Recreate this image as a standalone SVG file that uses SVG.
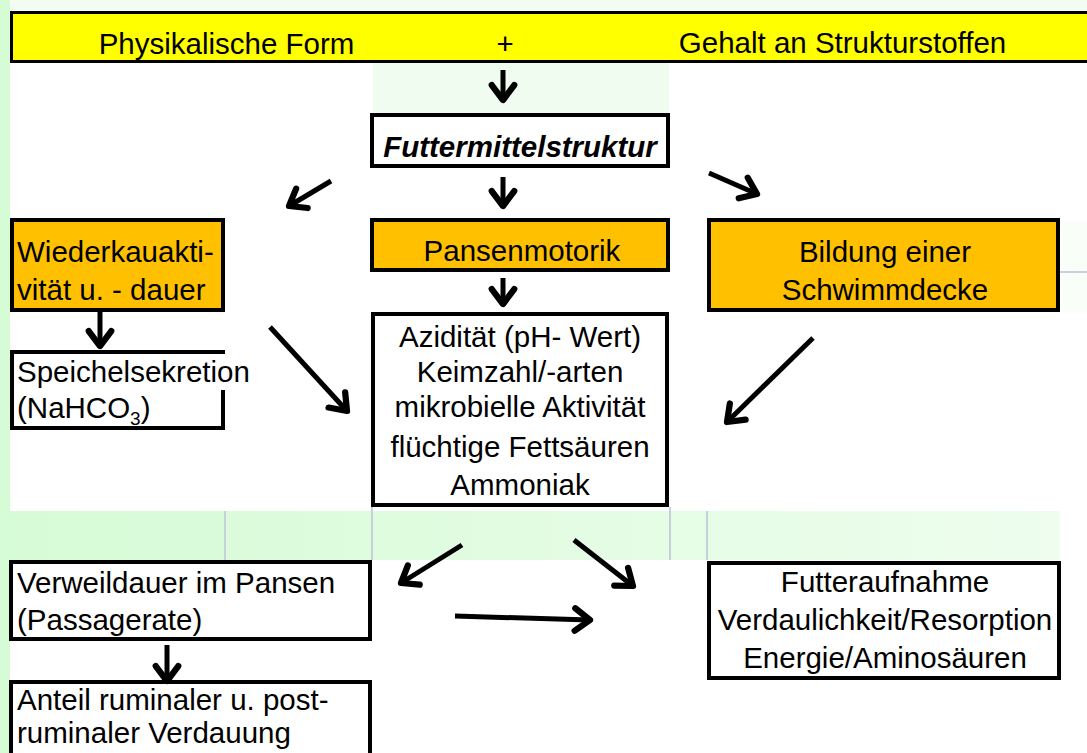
<svg xmlns="http://www.w3.org/2000/svg" width="1087" height="753" viewBox="0 0 1087 753">
<style>
text{font-family:"Liberation Sans",Arial,sans-serif;font-size:29.5px;fill:#000}
.c{text-anchor:middle}
.b{fill:none;stroke:#000;stroke-width:4}
.or{fill:#FFC000;stroke:#000;stroke-width:4}
.wh{fill:#fff;stroke:#000;stroke-width:4}
.ar{stroke:#000;stroke-width:5;fill:none;marker-end:url(#ah)}
.gl{stroke:#c8d0e0;stroke-width:2}
</style>
<defs>
<marker id="ah" markerUnits="userSpaceOnUse" markerWidth="30" markerHeight="30" viewBox="-16 -12 20 24" refX="0" refY="0" orient="auto">
<path d="M-12,-9 L0,0 L-12,9" fill="none" stroke="#000" stroke-width="5" stroke-linecap="round" stroke-linejoin="round"/>
</marker>
<linearGradient id="band" x1="0" x2="1" y1="0" y2="0">
<stop offset="0" stop-color="#d6fbd6"/>
<stop offset="1" stop-color="#eefdee"/>
</linearGradient>
</defs>
<rect width="1087" height="753" fill="#fff"/>
<g id="background">
<rect x="0" y="0" width="1087" height="12" fill="#f2fcf2"/>
<rect x="0" y="0" width="10" height="753" fill="#d6fcd6"/>
<rect x="373" y="62" width="296" height="52" fill="#f0fcf0"/>
<rect x="10" y="511" width="1050" height="49" fill="url(#band)"/>
<rect x="1060" y="222" width="27" height="90" fill="#f9fef9"/>
<line class="gl" x1="1060" y1="272" x2="1087" y2="272"/>
<line class="gl" x1="225" y1="511" x2="225" y2="560"/>
<line class="gl" x1="372" y1="507" x2="372" y2="560"/>
<line class="gl" x1="670" y1="507" x2="670" y2="560"/>
<line class="gl" x1="707" y1="511" x2="707" y2="560"/>
</g>
<g id="top-bar">
<rect x="11.5" y="12.5" width="1090" height="49" fill="#ffff00" stroke="#000" stroke-width="3"/>
<text class="c" x="226.5" y="54">Physikalische Form</text>
<text class="c" x="505" y="54">+</text>
<text class="c" x="842.5" y="53">Gehalt an Strukturstoffen</text>
</g>
<g id="futtermittelstruktur">
<rect class="wh" x="372" y="115" width="296" height="51"/>
<text class="c" x="520" y="157" style="font-weight:bold;font-style:italic">Futtermittelstruktur</text>
</g>
<g id="wiederkau">
<rect class="or" x="12" y="220" width="211" height="90"/>
<text x="17" y="262">Wiederkauakti-</text>
<text x="17" y="300">vität u. - dauer</text>
</g>
<g id="pansenmotorik">
<rect class="or" x="372" y="220" width="296" height="50"/>
<text class="c" x="522" y="261">Pansenmotorik</text>
</g>
<g id="schwimmdecke">
<rect class="or" x="709" y="220" width="349" height="90"/>
<text class="c" x="885" y="262">Bildung einer</text>
<text class="c" x="885" y="300">Schwimmdecke</text>
</g>
<g id="speichel">
<rect x="12" y="352" width="211" height="76" fill="#fff"/>
<path class="b" d="M223,390 V428 H12 V352 H225"/>
<text x="17" y="382">Speichelsekretion</text>
<text x="17" y="418">(NaHCO<tspan dy="7" style="font-size:19px">3</tspan><tspan dy="-7">)</tspan></text>
</g>
<g id="pansenparameter">
<rect class="wh" x="373" y="314" width="294" height="191"/>
<text class="c" x="520" y="347">Azidität (pH- Wert)</text>
<text class="c" x="520" y="382">Keimzahl/-arten</text>
<text class="c" x="520" y="417">mikrobielle Aktivität</text>
<text class="c" x="520" y="457">flüchtige Fettsäuren</text>
<text class="c" x="520" y="495">Ammoniak</text>
</g>
<g id="verweildauer">
<rect class="wh" x="11" y="562" width="359" height="77"/>
<text x="17" y="593">Verweildauer im Pansen</text>
<text x="17" y="630">(Passagerate)</text>
</g>
<g id="anteil">
<rect class="wh" x="11" y="682" width="359" height="90"/>
<text x="17" y="710">Anteil ruminaler u. post-</text>
<text x="17" y="743">ruminaler Verdauung</text>
</g>
<g id="futteraufnahme">
<rect class="wh" x="709" y="563" width="350" height="115"/>
<text class="c" x="885" y="592">Futteraufnahme</text>
<text class="c" x="885" y="630">Verdaulichkeit/Resorption</text>
<text class="c" x="885" y="668">Energie/Aminosäuren</text>
</g>
<g id="connectors">
<line class="ar" x1="503" y1="70" x2="503" y2="100"/>
<line class="ar" x1="503" y1="177" x2="503" y2="206"/>
<line class="ar" x1="331" y1="181" x2="289" y2="206"/>
<line class="ar" x1="709" y1="173" x2="757" y2="194"/>
<line class="ar" x1="503" y1="278" x2="503" y2="304"/>
<line class="ar" x1="100" y1="312" x2="100" y2="346"/>
<line class="ar" x1="270" y1="327" x2="347" y2="411"/>
<line class="ar" x1="813" y1="338" x2="727" y2="422"/>
<line class="ar" x1="462" y1="545" x2="401" y2="583"/>
<line class="ar" x1="574" y1="540" x2="633" y2="586"/>
<line class="ar" x1="455" y1="616" x2="590" y2="620"/>
<line class="ar" x1="167" y1="645" x2="167" y2="681"/>
</g>
</svg>
